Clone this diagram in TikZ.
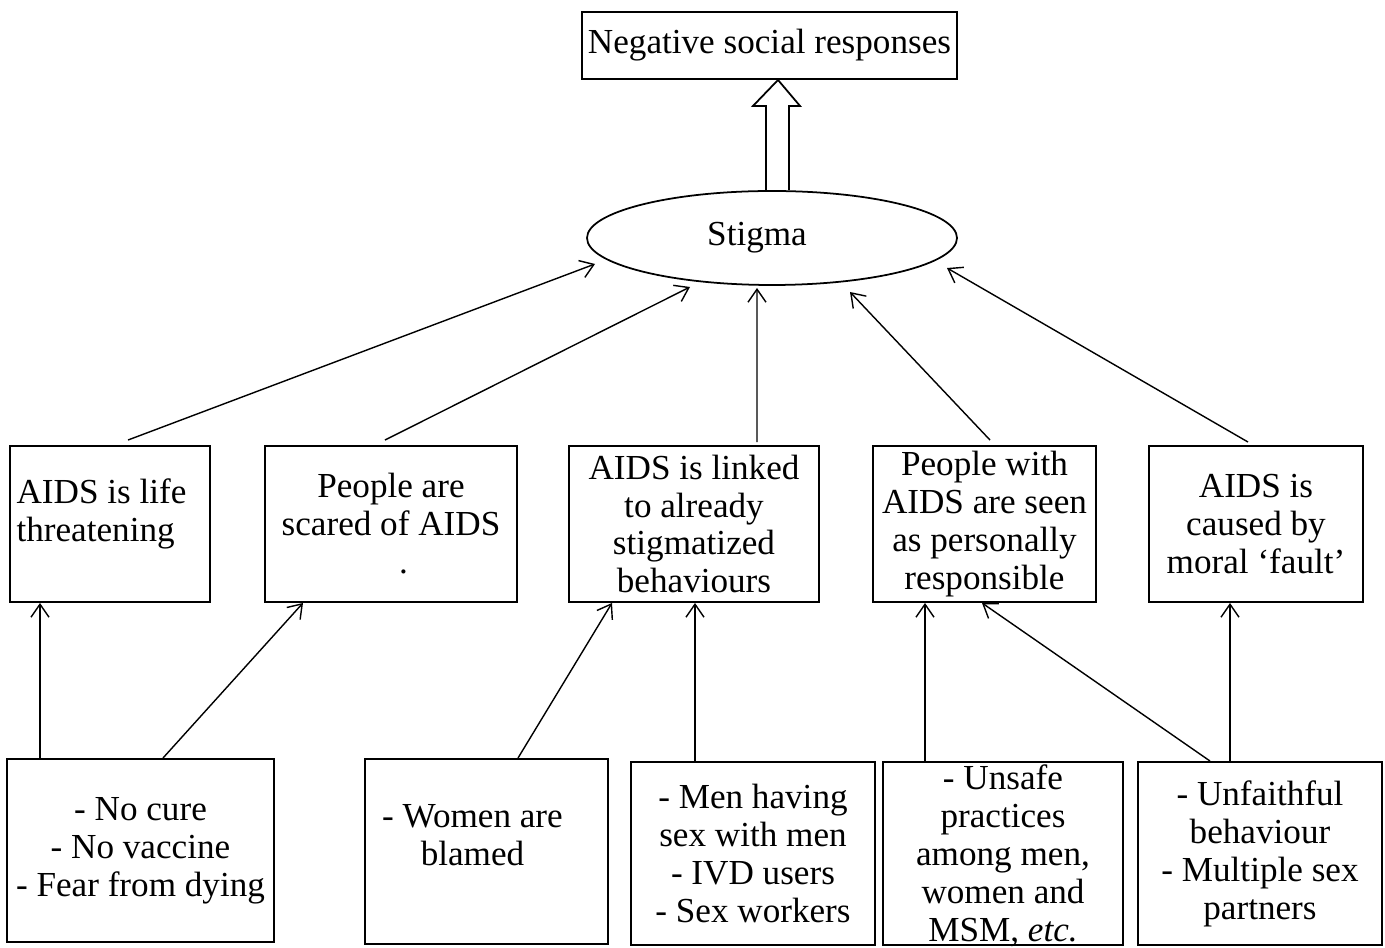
\documentclass[tikz,border=0pt]{standalone}
\usepackage{fontspec}
\setmainfont{Liberation Serif}
\usetikzlibrary{arrows.meta,shapes.geometric}

\begin{document}
\begin{tikzpicture}[font=\fontsize{20}{21.6}\selectfont,
   box/.style={draw, line width=1.1pt, inner sep=0pt, align=center},
   link/.style={->, line width=0.8pt},
   >={Straight Barb[length=2.6mm,width=3.6mm]}]
   \useasboundingbox (0,0) rectangle (27.7,18.96);
   % top of the tree
   \node[box, minimum width=7.5cm, minimum height=1.34cm] (resp) at (15.39,18.05) {Negative social responses};
   \node[draw, ellipse, line width=1pt, minimum width=7.4cm, minimum height=1.88cm] (stigma) at (15.44,14.2) {Stigma\hspace*{0.6cm}};
   \draw[line width=1pt] ([xshift=-0.07cm]resp.south |- stigma.north) -- ([xshift=-0.07cm,yshift=-0.52cm]resp.south)
      -- ([xshift=-0.33cm,yshift=-0.52cm]resp.south) -- ([xshift=0.17cm]resp.south)
      -- ([xshift=0.61cm,yshift=-0.52cm]resp.south) -- ([xshift=0.39cm,yshift=-0.52cm]resp.south)
      -- ([xshift=0.39cm]resp.south |- stigma.north);
   % middle row
   \node[box, align=left, minimum width=4cm, minimum height=3.12cm, text depth=15.7pt] (life) at (2.2,8.48) {AIDS is life\hspace*{0.34cm}\\threatening};
   \node[box, minimum width=5.04cm, minimum height=3.12cm] (scared) at (7.82,8.48) {People are\\scared of AIDS\\\hspace*{0.5cm}.};
   \node[box, minimum width=5cm, minimum height=3.12cm] (linked) at (13.88,8.48) {AIDS is linked\\to already\\stigmatized\\behaviours};
   \node[box, minimum width=4.46cm, minimum height=3.12cm] (responsible) at (19.69,8.48) {People with\\AIDS are seen\\as personally\\responsible};
   \node[box, minimum width=4.28cm, minimum height=3.12cm] (fault) at (25.12,8.48) {AIDS is\\caused by\\moral `fault'};
   \draw[link] ([shift={(0.36,0.1)}]life.north) -- ([shift={(-3.54,-0.52)}]stigma.center);
   \draw[link] ([shift={(-0.12,0.1)}]scared.north) -- ([shift={(-1.64,-0.98)}]stigma.center);
   \draw[link] ([shift={(1.26,0.06)}]linked.north) -- ([shift={(-0.3,-1.0)}]stigma.center);
   \draw[link] ([shift={(0.11,0.1)}]responsible.north) -- ([shift={(1.56,-1.08)}]stigma.center);
   \draw[link] ([shift={(-0.16,0.06)}]fault.north) -- ([shift={(3.5,-0.6)}]stigma.center);
   % bottom row
   \node[box, minimum width=5.34cm, minimum height=3.66cm] (nocure) at (2.81,1.95) {- No cure\\- No vaccine\\- Fear from dying};
   \node[box, minimum width=4.86cm, minimum height=3.7cm, text depth=18.8pt] (women) at (9.73,1.93) {- Women are\hspace*{0.56cm}\\blamed\hspace*{0.56cm}};
   \node[box, minimum width=4.88cm, minimum height=3.66cm] (msm) at (15.06,1.89) {- Men having\\sex with men\\- IVD users\\- Sex workers};
   \node[box, minimum width=4.8cm, minimum height=3.66cm, text height=100pt, text depth=0pt] (unsafe) at (20.06,1.89) {- Unsafe\\practices\\among men,\\women and\\MSM, \textit{etc.}};
   \node[box, minimum width=4.88cm, minimum height=3.66cm] (unfaithful) at (25.2,1.89) {- Unfaithful\\behaviour\\- Multiple sex\\partners};
   \draw[link] ([xshift=-1.4cm]life.south |- nocure.north) -- ([xshift=-1.4cm]life.south);
   \draw[link] ([xshift=0.45cm]nocure.north) -- ([xshift=-1.76cm]scared.south);
   \draw[link] ([xshift=0.63cm]women.north) -- ([xshift=-1.64cm]linked.south);
   \draw[link] ([xshift=0.02cm]linked.south |- msm.north) -- ([xshift=0.02cm]linked.south);
   \draw[link] ([xshift=-1.19cm]responsible.south |- unsafe.north) -- ([xshift=-1.19cm]responsible.south);
   \draw[link] ([xshift=-1.0cm]unfaithful.north) -- ([xshift=-0.05cm]responsible.south);
   \draw[link] ([xshift=-0.52cm]fault.south |- unfaithful.north) -- ([xshift=-0.52cm]fault.south);
\end{tikzpicture}
\end{document}
